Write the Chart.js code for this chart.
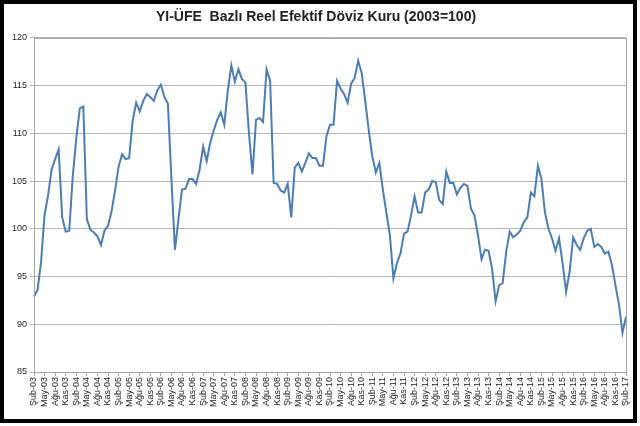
<!DOCTYPE html>
<html>
<head>
<meta charset="utf-8">
<script src="https://cdn.jsdelivr.net/npm/chart.js@4.4.1/dist/chart.umd.min.js"></script>
<style>
  html, body { margin: 0; padding: 0; background: #fff; }
  #wrap { width: 640px; height: 426px; }
</style>
</head>
<body>
<div id="wrap"><canvas id="reerChart" width="640" height="426"></canvas></div>
<script>
// Turkish month abbreviations, series starts Feb 2003 (monthly)
const monthNames = ["Oca", "Şub", "Mar", "Nis", "May", "Haz", "Tem", "Ağu", "Eyl", "Eki", "Kas", "Ara"];
const startYear = 2003;
const startMonth = 1; // Şub

// Yİ-ÜFE based real effective exchange rate, 2003=100, Şub-03 .. Şub-17
const reer = [
  92.9, 93.6, 96.5, 101.5, 103.5, 106.2, 107.3, 108.3, 101.2, 99.7, 99.8, 105.5,
  109.5, 112.6, 112.8, 101.0, 99.9, 99.6, 99.2, 98.3, 99.8, 100.3, 101.8, 104.0,
  106.5, 107.8, 107.3, 107.4, 111.3, 113.2, 112.3, 113.4, 114.1, 113.8, 113.4, 114.5,
  115.1, 113.8, 113.1, 105.2, 97.8, 101.0, 104.1, 104.2, 105.2, 105.2, 104.7, 106.2,
  108.6, 107.1, 109.0, 110.3, 111.4, 112.2, 110.9, 114.5, 117.1, 115.4, 116.7, 115.7,
  115.3, 110.0, 105.7, 111.4, 111.6, 111.2, 116.7, 115.5, 104.8, 104.7, 104.0, 103.8,
  104.7, 101.2, 106.4, 106.9, 106.0, 106.9, 107.9, 107.4, 107.4, 106.6, 106.6, 109.7,
  110.9, 110.9, 115.5, 114.7, 114.1, 113.2, 115.2, 115.8, 117.6, 116.3, 113.4, 110.3,
  107.6, 105.9, 106.9, 104.1, 101.7, 99.3, 94.8, 96.4, 97.4, 99.5, 99.7, 101.4,
  103.4, 101.7, 101.7, 103.8, 104.1, 105.0, 104.9, 103.0, 102.6, 106.0, 104.8, 104.8,
  103.6, 104.3, 104.7, 104.5, 102.1, 101.4, 99.3, 96.8, 97.8, 97.7, 95.8, 92.4,
  94.1, 94.3, 97.6, 99.7, 99.1, 99.4, 99.8, 100.7, 101.2, 103.8, 103.4, 106.6,
  105.2, 101.7, 100.0, 99.0, 97.7, 99.0, 96.4, 93.4, 95.5, 99.1, 98.3, 97.8,
  99.0, 99.8, 100.0, 98.1, 98.4, 98.1, 97.4, 97.6, 96.2, 94.1, 92.1, 89.1,
  90.8
];

const yMin = 85, yMax = 120, yStep = 5;
const labelEvery = 3;

const labels = reer.map((_, i) => {
  const m = startMonth + i;
  const yy = (startYear + Math.floor(m / 12)) % 100;
  return `${monthNames[m % 12]}-${String(yy).padStart(2, "0")}`;
});

const FONT = "'Liberation Sans', Arial, sans-serif";

const framePlugin = {
  id: "frame",
  beforeDraw(chart) {
    const { ctx, width, height } = chart;
    ctx.save();
    ctx.fillStyle = "#fff";
    ctx.fillRect(0, 0, width, height);
    ctx.restore();
  },
  afterDraw(chart) {
    const { ctx, chartArea } = chart;
    ctx.save();
    ctx.strokeStyle = "#a6a6a6";
    ctx.lineWidth = 1;
    ctx.strokeRect(Math.round(chartArea.left) + 0.5, Math.round(chartArea.top) + 0.5,
      Math.round(chartArea.right - chartArea.left), Math.round(chartArea.bottom - chartArea.top));
    ctx.strokeStyle = "#000";
    ctx.lineWidth = 4;
    ctx.strokeRect(2, 2, 633, 419);
    ctx.restore();
  }
};

new Chart(document.getElementById("reerChart").getContext("2d"), {
  type: "line",
  data: {
    labels: labels,
    datasets: [{
      label: "Yİ-ÜFE Bazlı Reel Efektif Döviz Kuru",
      data: reer,
      borderColor: "#4d7cb0",
      borderWidth: 2,
      pointRadius: 0,
      tension: 0,
      fill: false
    }]
  },
  options: {
    responsive: false,
    animation: false,
    layout: { padding: { left: 6, right: 14, top: 0, bottom: 8 } },
    plugins: {
      legend: { display: false },
      tooltip: { enabled: false },
      title: {
        display: true,
        text: "YI-ÜFE  Bazlı Reel Efektif Döviz Kuru (2003=100)",
        color: "#222",
        font: { family: FONT, size: 14, weight: "bold", lineHeight: 1.2 },
        padding: { top: 9, bottom: 12 }
      }
    },
    scales: {
      x: {
        offset: false,
        afterFit(scale) { scale.height = 46; },
        grid: { display: true, drawOnChartArea: false, drawTicks: true, tickLength: 4, color: "#a6a6a6" },
        border: { color: "#a6a6a6" },
        ticks: {
          autoSkip: false,
          maxRotation: 90,
          minRotation: 90,
          padding: 1,
          color: "#222",
          font: { family: FONT, size: 9 },
          callback: function (value, index) {
            return index % labelEvery === 0 ? this.getLabelForValue(value) : null;
          }
        }
      },
      y: {
        min: yMin,
        max: yMax,
        afterFit(scale) { scale.width = 28; },
        grid: { color: "#b5b5b5", tickLength: 4 },
        border: { color: "#a6a6a6" },
        ticks: {
          stepSize: yStep,
          padding: 3,
          color: "#222",
          font: { family: FONT, size: 9 }
        }
      }
    }
  },
  plugins: [framePlugin]
});
</script>
</body>
</html>
